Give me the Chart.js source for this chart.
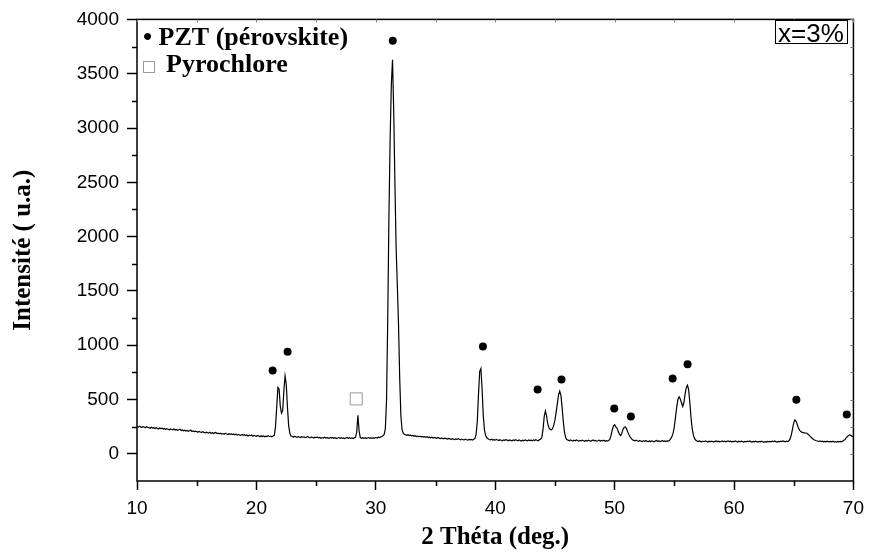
<!DOCTYPE html>
<html>
<head>
<meta charset="utf-8">
<title>DRX PZT x=3%</title>
<script src="https://cdn.jsdelivr.net/npm/chart.js@4"></script>
<style>
  body { margin: 0; background: #fff; }
</style>
</head>
<body>
<canvas id="xrd" width="871" height="557"></canvas>
<script>
// diffractogram: intensity read every 0.1 deg, from 10.0 to 70.0
const thetaStart = 10.0;
const thetaStep = 0.1;
const intensity = [
  252, 246, 255, 248, 243, 251, 247, 240, 249, 244, // 10
  241, 236, 245, 238, 242, 233, 240, 236, 229, 238, // 11
  232, 236, 228, 234, 225, 231, 227, 222, 230, 224, // 12
  221, 228, 219, 224, 216, 222, 226, 215, 220, 213, // 13
  218, 210, 215, 208, 212, 219, 206, 211, 204, 209, // 14
  205, 199, 207, 201, 196, 204, 198, 193, 200, 195, // 15
  192, 199, 190, 195, 187, 193, 197, 186, 191, 184, // 16
  190, 183, 187, 181, 189, 182, 178, 186, 180, 184, // 17
  177, 183, 175, 180, 172, 178, 174, 170, 179, 171, // 18
  176, 168, 173, 165, 171, 167, 174, 163, 169, 165, // 19
  162, 170, 164, 158, 167, 160, 165, 157, 163, 159, // 20
  166, 158, 162, 156, 164, 170, 250, 430, 612, 598, // 21
  440, 375, 400, 580, 718, 640, 430, 260, 190, 165, // 22
  160, 154, 161, 157, 152, 159, 155, 150, 158, 153, // 23
  156, 149, 154, 160, 151, 147, 155, 150, 146, 153, // 24
  149, 155, 147, 152, 144, 150, 146, 153, 145, 149, // 25
  147, 142, 150, 145, 151, 143, 148, 141, 146, 150, // 26
  144, 149, 142, 147, 140, 146, 151, 143, 148, 142, // 27
  147, 141, 149, 150, 200, 355, 210, 150, 144, 149, // 28
  143, 148, 141, 146, 150, 144, 149, 142, 147, 145, // 29
  150, 146, 153, 149, 156, 160, 166, 178, 235, 500, // 30
  1250, 2200, 2900, 3400, 3628, 3150, 2500, 1900, 1560, 1200, // 31
  700, 350, 220, 190, 178, 175, 170, 176, 168, 172, // 32
  165, 170, 162, 167, 160, 164, 158, 163, 156, 161, // 33
  155, 159, 152, 157, 150, 154, 148, 153, 146, 151, // 34
  147, 143, 150, 145, 140, 147, 142, 138, 145, 140, // 35
  136, 142, 138, 133, 140, 135, 131, 137, 133, 139, // 36
  134, 130, 136, 131, 128, 135, 130, 126, 133, 129, // 37
  132, 127, 134, 140, 180, 300, 550, 760, 785, 600, // 38
  350, 220, 168, 148, 138, 132, 128, 134, 127, 131, // 39
  126, 132, 128, 123, 130, 125, 121, 129, 124, 130, // 40
  126, 121, 128, 124, 119, 127, 122, 130, 125, 120, // 41
  128, 123, 118, 126, 121, 129, 124, 119, 127, 122, // 42
  126, 120, 128, 123, 131, 125, 121, 129, 135, 150, // 43
  220, 340, 395, 350, 275, 240, 225, 222, 232, 262, // 44
  310, 380, 460, 540, 578, 540, 430, 300, 200, 150, // 45
  132, 126, 121, 128, 123, 118, 125, 120, 127, 122, // 46
  117, 124, 119, 126, 121, 116, 123, 118, 125, 120, // 47
  115, 122, 127, 119, 124, 117, 121, 126, 118, 123, // 48
  119, 125, 116, 122, 118, 122, 135, 170, 220, 255, // 49
  268, 248, 238, 205, 182, 168, 190, 225, 245, 248, // 50
  230, 200, 175, 155, 140, 130, 124, 119, 125, 120, // 51
  116, 122, 118, 113, 120, 115, 121, 117, 112, 119, // 52
  114, 120, 116, 111, 118, 123, 115, 119, 113, 117, // 53
  121, 115, 119, 114, 120, 117, 124, 140, 160, 190, // 54
  250, 340, 430, 500, 525, 505, 470, 435, 470, 550, // 55
  610, 632, 590, 470, 330, 230, 170, 140, 125, 118, // 56
  113, 119, 115, 110, 117, 112, 118, 114, 109, 116, // 57
  111, 117, 113, 108, 115, 119, 112, 116, 110, 114, // 58
  118, 112, 116, 110, 115, 120, 113, 117, 111, 115, // 59
  112, 118, 114, 109, 116, 111, 117, 113, 108, 115, // 60
  110, 116, 112, 118, 113, 109, 115, 111, 117, 112, // 61
  108, 114, 110, 116, 112, 107, 113, 109, 115, 111, // 62
  114, 110, 116, 112, 118, 113, 109, 115, 111, 117, // 63
  113, 119, 115, 111, 117, 113, 120, 140, 175, 230, // 64
  285, 312, 300, 268, 238, 215, 205, 198, 196, 193, // 65
  192, 190, 180, 170, 158, 148, 138, 130, 125, 121, // 66
  118, 114, 119, 112, 116, 110, 115, 111, 117, 112, // 67
  110, 115, 111, 116, 108, 113, 109, 114, 110, 115, // 68
  111, 116, 125, 132, 150, 160, 170, 175, 168, 160, // 69
  158                                                // 70
];

// phase markers
const perovskiteTheta = [21.36, 22.61, 31.42, 38.97, 43.55, 45.55, 49.97, 51.36, 54.86, 56.11, 65.22, 69.44];
const perovskiteMark = [767, 939, 3803, 988, 592, 684, 417, 343, 693, 826, 497, 362];
const pyrochloreTheta = [28.36];
const pyrochloreMark = [506];

// axes
const xTickValues = [10, 20, 30, 40, 50, 60, 70];
const xMinorTicks = [15, 25, 35, 45, 55, 65];
const yTickValues = [0, 500, 1000, 1500, 2000, 2500, 3000, 3500, 4000];
const yMinorTicks = [250, 750, 1250, 1750, 2250, 2750, 3250, 3750];

const pattern = intensity.map((v, i) => ({ x: thetaStart + i * thetaStep, y: v }));
const perovskitePts = perovskiteTheta.map((t, i) => ({ x: t, y: perovskiteMark[i] }));
const pyrochlorePts = pyrochloreTheta.map((t, i) => ({ x: t, y: pyrochloreMark[i] }));

const serif = '"Liberation Serif", "Times New Roman", serif';
const sans = '"Liberation Sans", Arial, sans-serif';

// box, minor ticks and mirror ticks
const framePlugin = {
  id: 'frame',
  afterDatasetsDraw(chart) {
    const { ctx, chartArea: a, scales: { x, y } } = chart;
    ctx.save();
    ctx.strokeStyle = '#000';
    ctx.lineWidth = 1.5;
    ctx.strokeRect(a.left, a.top, a.right - a.left, a.bottom - a.top);

    ctx.beginPath();
    yMinorTicks.forEach(v => {
      const py = Math.round(y.getPixelForValue(v)) + 0.5;
      ctx.moveTo(a.left - 5, py);
      ctx.lineTo(a.left, py);
    });
    xMinorTicks.forEach(v => {
      const px = Math.round(x.getPixelForValue(v)) + 0.5;
      ctx.moveTo(px, a.bottom);
      ctx.lineTo(px, a.bottom + 5);
    });
    ctx.stroke();

    ctx.strokeStyle = '#777';
    ctx.lineWidth = 1;
    ctx.beginPath();
    xMinorTicks.concat(xTickValues).forEach(v => {
      const px = Math.round(x.getPixelForValue(v)) + 0.5;
      ctx.moveTo(px, a.top);
      ctx.lineTo(px, a.top + 3);
    });
    yMinorTicks.concat(yTickValues).forEach(v => {
      const py = Math.round(y.getPixelForValue(v)) + 0.5;
      ctx.moveTo(a.right, py);
      ctx.lineTo(a.right - 3, py);
    });
    ctx.stroke();
    ctx.restore();
  }
};

// legend text and composition label
const labelPlugin = {
  id: 'labels',
  afterDraw(chart) {
    const { ctx } = chart;
    ctx.save();
    ctx.fillStyle = '#000';
    ctx.textBaseline = 'alphabetic';
    ctx.textAlign = 'left';
    ctx.font = 'bold 26px ' + serif;
    ctx.fillText('\u2022 PZT (pérovskite)', 143, 45);
    ctx.fillText('Pyrochlore', 166, 72);
    ctx.strokeStyle = '#999';
    ctx.lineWidth = 1;
    ctx.strokeRect(143.5, 61.5, 11, 11);

    ctx.fillStyle = '#fff';
    ctx.fillRect(775, 20, 72, 24);
    ctx.strokeStyle = '#000';
    ctx.strokeRect(775.5, 20.5, 72, 23);
    ctx.fillStyle = '#000';
    ctx.font = '26px ' + sans;
    ctx.fillText('x=3%', 778, 42);
    ctx.restore();
  }
};

new Chart(document.getElementById('xrd'), {
  type: 'line',
  data: {
    datasets: [
      {
        label: 'PZT x=3%',
        data: pattern,
        borderColor: '#000',
        borderWidth: 1.2,
        pointRadius: 0,
        tension: 0,
        order: 3
      },
      {
        label: 'PZT (pérovskite)',
        data: perovskitePts,
        showLine: false,
        pointRadius: 4,
        pointBackgroundColor: '#000',
        pointBorderColor: '#000',
        pointBorderWidth: 0,
        order: 1
      },
      {
        label: 'Pyrochlore',
        data: pyrochlorePts,
        showLine: false,
        pointStyle: 'rect',
        pointRadius: 8.5,
        pointBackgroundColor: '#fff',
        pointBorderColor: '#999',
        pointBorderWidth: 1,
        order: 2
      }
    ]
  },
  options: {
    responsive: false,
    animation: false,
    devicePixelRatio: 1,
    layout: { padding: { top: 19, right: 14, left: 0, bottom: 0 } },
    plugins: {
      legend: { display: false },
      tooltip: { enabled: false }
    },
    scales: {
      x: {
        type: 'linear',
        min: 10,
        max: 70,
        afterBuildTicks: s => { s.ticks = xTickValues.map(v => ({ value: v })); },
        afterFit: s => { s.height = 76; },
        grid: { drawOnChartArea: false, tickLength: 9, color: '#000', tickWidth: 1.5 },
        border: { display: false },
        ticks: { color: '#000', padding: 7, maxRotation: 0, font: { family: sans, size: 19 }, callback: v => String(v) },
        title: {
          display: true,
          text: '2 Théta (deg.)',
          color: '#000',
          font: { family: serif, size: 25, weight: 'bold' },
          padding: { top: 0, bottom: 4 }
        }
      },
      y: {
        min: -250,
        max: 4000,
        afterBuildTicks: s => { s.ticks = yTickValues.map(v => ({ value: v })); },
        afterFit: s => { s.width = 137; },
        grid: { drawOnChartArea: false, tickLength: 10, color: '#000', tickWidth: 1.5 },
        border: { display: false },
        ticks: { color: '#000', padding: 8, font: { family: sans, size: 19 }, callback: v => String(v) },
        title: {
          display: true,
          text: 'Intensité ( u.a.)',
          color: '#000',
          font: { family: serif, size: 25, weight: 'bold' },
          padding: { top: 9, bottom: 0 }
        }
      }
    }
  },
  plugins: [framePlugin, labelPlugin]
});
</script>
</body>
</html>
